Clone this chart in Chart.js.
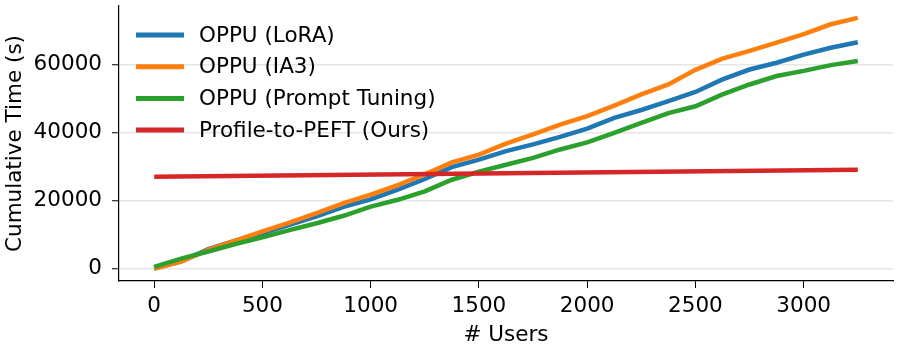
<!DOCTYPE html>
<html>
<head>
<meta charset="utf-8">
<script src="https://cdn.jsdelivr.net/npm/chart.js@4.4.0/dist/chart.umd.min.js"></script>
<style>
    html, body { margin: 0; padding: 0; background: #fff; }
    #wrap { width: 897px; height: 348px; }
</style>
</head>
<body>
<div id="wrap"><canvas id="myChart" width="897" height="348"></canvas></div>
<script>
// number of users (x)
var users = [0, 125, 250, 375, 500, 625, 750, 875, 1000, 1125, 1250, 1375, 1500, 1625, 1750,
    1875, 2000, 2125, 2250, 2375, 2500, 2625, 2750, 2875, 3000, 3125, 3250];

// cumulative time in seconds
var lora = [0, 2100, 5700, 8200, 10400, 12800, 15300, 18100, 20300, 23200, 26300, 29800, 32000, 34500,
    36500, 38700, 41100, 44300, 46600, 49200, 51900, 55600, 58500, 60500, 62900, 64900, 66500];
var ia3 = [0, 2000, 5500, 8200, 10900, 13500, 16300, 19200, 21700, 24500, 27700, 31200, 33500, 36700,
    39400, 42300, 44800, 47900, 51200, 54100, 58400, 61700, 64000, 66400, 68900, 71800, 73700];
var promptTuning = [500, 2900, 5000, 7200, 9200, 11300, 13300, 15500, 18200, 20200, 22700, 26100, 28500, 30500,
    32500, 35000, 37100, 39900, 42800, 45700, 47700, 51200, 54100, 56600, 58100, 59800, 61000];
var oursUsers = [0, 3250];
var ours = [27000, 29000];

var xTicks = [0, 500, 1000, 1500, 2000, 2500, 3000];
var yTicks = [0, 20000, 40000, 60000];

var seriesNames = ['OPPU (LoRA)', 'OPPU (IA3)', 'OPPU (Prompt Tuning)', 'Profile-to-PEFT (Ours)'];
var seriesColors = ['#1f77b4', '#ff7f0e', '#2ca02c', '#d62728'];

function toPoints(xs, ys) {
    return xs.map(function(x, i) { return { x: x, y: ys[i] }; });
}

var FONT = 'DejaVu Sans';
var FS = 21.5;

// legend drawn inside the plot, top left, no frame
var legendInside = {
    id: 'legendInside',
    afterDraw: function(chart) {
        var ctx = chart.ctx;
        var x0 = 136, x1 = 184, tx = 199, y = 35, step = 31.7;
        ctx.save();
        ctx.font = FS + 'px "' + FONT + '"';
        ctx.textBaseline = 'middle';
        ctx.fillStyle = '#000';
        seriesNames.forEach(function(name, i) {
            var yy = y + i * step;
            ctx.strokeStyle = seriesColors[i];
            ctx.lineWidth = 5;
            ctx.beginPath();
            ctx.moveTo(x0, yy);
            ctx.lineTo(x1, yy);
            ctx.stroke();
            ctx.fillText(name, tx, yy + 1);
        });
        ctx.restore();
    }
};

var ctx = document.getElementById('myChart').getContext('2d');
var myChart = new Chart(ctx, {
    type: 'line',
    data: {
        datasets: [{
            label: seriesNames[0],
            data: toPoints(users, lora),
            borderColor: seriesColors[0],
            order: 3
        }, {
            label: seriesNames[1],
            data: toPoints(users, ia3),
            borderColor: seriesColors[1],
            order: 2
        }, {
            label: seriesNames[2],
            data: toPoints(users, promptTuning),
            borderColor: seriesColors[2],
            order: 1
        }, {
            label: seriesNames[3],
            data: toPoints(oursUsers, ours),
            borderColor: seriesColors[3],
            order: 0
        }]
    },
    options: {
        responsive: false,
        animation: false,
        devicePixelRatio: 1,
        elements: {
            point: { radius: 0 },
            line: { borderWidth: 4.5, tension: 0, borderCapStyle: 'butt' }
        },
        layout: { padding: { top: 6, right: 4, left: 0, bottom: 0 } },
        plugins: {
            legend: { display: false },
            tooltip: { enabled: false }
        },
        scales: {
            x: {
                type: 'linear',
                min: -162.5,
                max: 3412.5,
                afterBuildTicks: function(axis) {
                    axis.ticks = xTicks.map(function(v) { return { value: v }; });
                },
                afterFit: function(axis) {
                    axis.height = 67;
                    axis.paddingLeft = 0;
                    axis.paddingRight = 0;
                },
                grid: { drawOnChartArea: false, drawTicks: true, tickLength: 7, tickColor: '#000', tickWidth: 1 },
                border: { display: true, color: '#000', width: 1.2 },
                ticks: {
                    color: '#000', font: { family: FONT, size: FS }, padding: 6, maxRotation: 0,
                    callback: function(v) { return String(v); }
                },
                title: { display: true, text: '# Users', color: '#000', font: { family: FONT, size: FS }, padding: { top: 0, bottom: 0 } }
            },
            y: {
                type: 'linear',
                min: -3675,
                max: 77175,
                afterBuildTicks: function(axis) {
                    axis.ticks = yTicks.map(function(v) { return { value: v }; });
                },
                afterFit: function(axis) {
                    axis.width = 119;
                    axis.paddingTop = 0;
                    axis.paddingBottom = 0;
                },
                grid: { color: '#e6e6e6', lineWidth: 1.5, drawTicks: true, tickLength: 7, tickColor: '#000', tickWidth: 1 },
                border: { display: true, color: '#000', width: 1.2 },
                ticks: {
                    color: '#000', font: { family: FONT, size: FS }, padding: 10,
                    callback: function(v) { return String(v); }
                },
                title: { display: true, text: 'Cumulative Time (s)', color: '#000', font: { family: FONT, size: FS }, padding: { top: 3, bottom: 0 } }
            }
        }
    },
    plugins: [legendInside]
});
</script>
</body>
</html>
